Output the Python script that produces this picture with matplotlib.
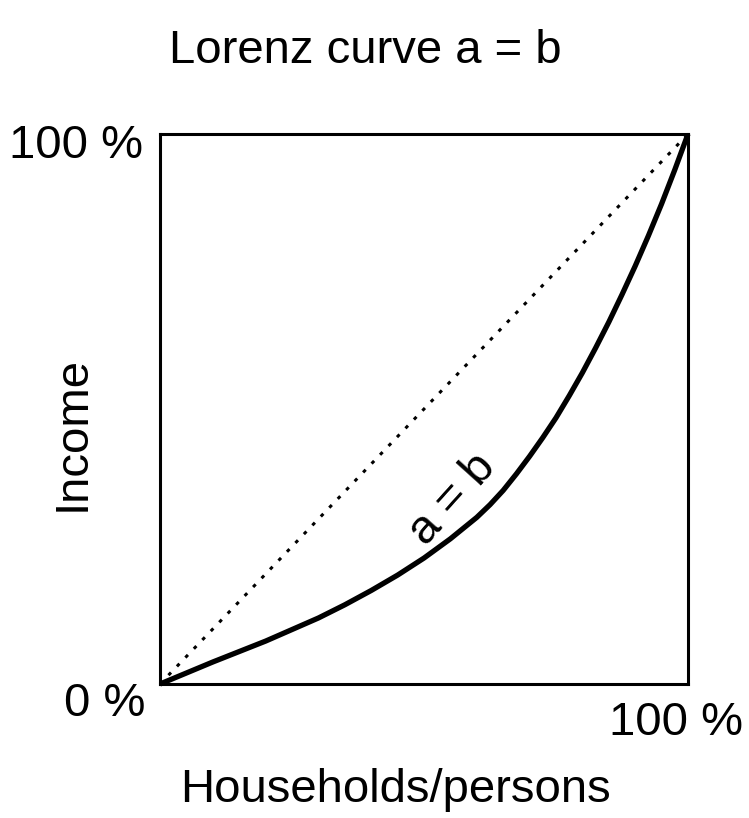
import numpy as np
import matplotlib
matplotlib.use("Agg")
import matplotlib.pyplot as plt

plt.rcParams['font.family'] = ['Liberation Sans', 'DejaVu Sans']

# ======================
# data (shares, 0..1)
# ======================
households = [0.0, 0.05, 0.1, 0.15, 0.2, 0.25, 0.3, 0.35, 0.4, 0.45, 0.5, 0.55, 0.6,
              0.625, 0.65, 0.675, 0.7, 0.725, 0.75, 0.775, 0.8, 0.825, 0.85, 0.875,
              0.9, 0.925, 0.95, 0.975, 1.0]
income = [0.0, 0.02, 0.04, 0.059, 0.078, 0.099, 0.12, 0.144, 0.17, 0.198, 0.229, 0.264, 0.303,
          0.326, 0.352, 0.382, 0.414, 0.448, 0.484, 0.524, 0.566, 0.611, 0.658, 0.708,
          0.76, 0.815, 0.873, 0.935, 1.0]
equality_x = [0.0, 1.0]
equality_y = [0.0, 1.0]

title_text = "Lorenz curve a = b"
curve_label = "a = b"
xlabel_text = "Households/persons"
ylabel_text = "Income"
low_label = "0 %"
high_label = "100 %"

W, H = 749, 818
fs = 34

fig = plt.figure(figsize=(W / 100, H / 100), dpi=100)
ax = fig.add_axes([160 / W, 1 - 684 / H, 528 / W, 550 / H])
ax.set_xlim(0, 1)
ax.set_ylim(0, 1)
ax.set_xticks([])
ax.set_yticks([])
for sp in ax.spines.values():
    sp.set_linewidth(2.2)

# line of equality (dotted) + Lorenz curve
ax.plot(equality_x, equality_y, color='black', lw=2.2, dashes=(1.2, 2.8), clip_on=False)
ax.plot(households, income, color='black', lw=3.8, solid_capstyle='butt',
        solid_joinstyle='round', clip_on=False)

ax.text(0.555, 0.335, curve_label, fontsize=fs, rotation=48, ha='center', va='center',
        rotation_mode='anchor')

# corner labels (pixel positions -> figure fraction)
def px(x, y):
    return x / W, 1 - y / H

fig.text(*px(143, 158), high_label, fontsize=fs, ha='right', va='baseline')
fig.text(*px(145, 716), low_label, fontsize=fs, ha='right', va='baseline')
fig.text(*px(743, 735), high_label, fontsize=fs, ha='right', va='baseline')

fig.text(*px(365, 63), title_text, fontsize=fs, ha='center', va='baseline')
fig.text(*px(396, 802), xlabel_text, fontsize=fs, ha='center', va='baseline')
fig.text(*px(85, 434), ylabel_text, fontsize=fs, ha='center', va='baseline',
         rotation=90, rotation_mode='anchor')

fig.savefig("out.png", dpi=100)
